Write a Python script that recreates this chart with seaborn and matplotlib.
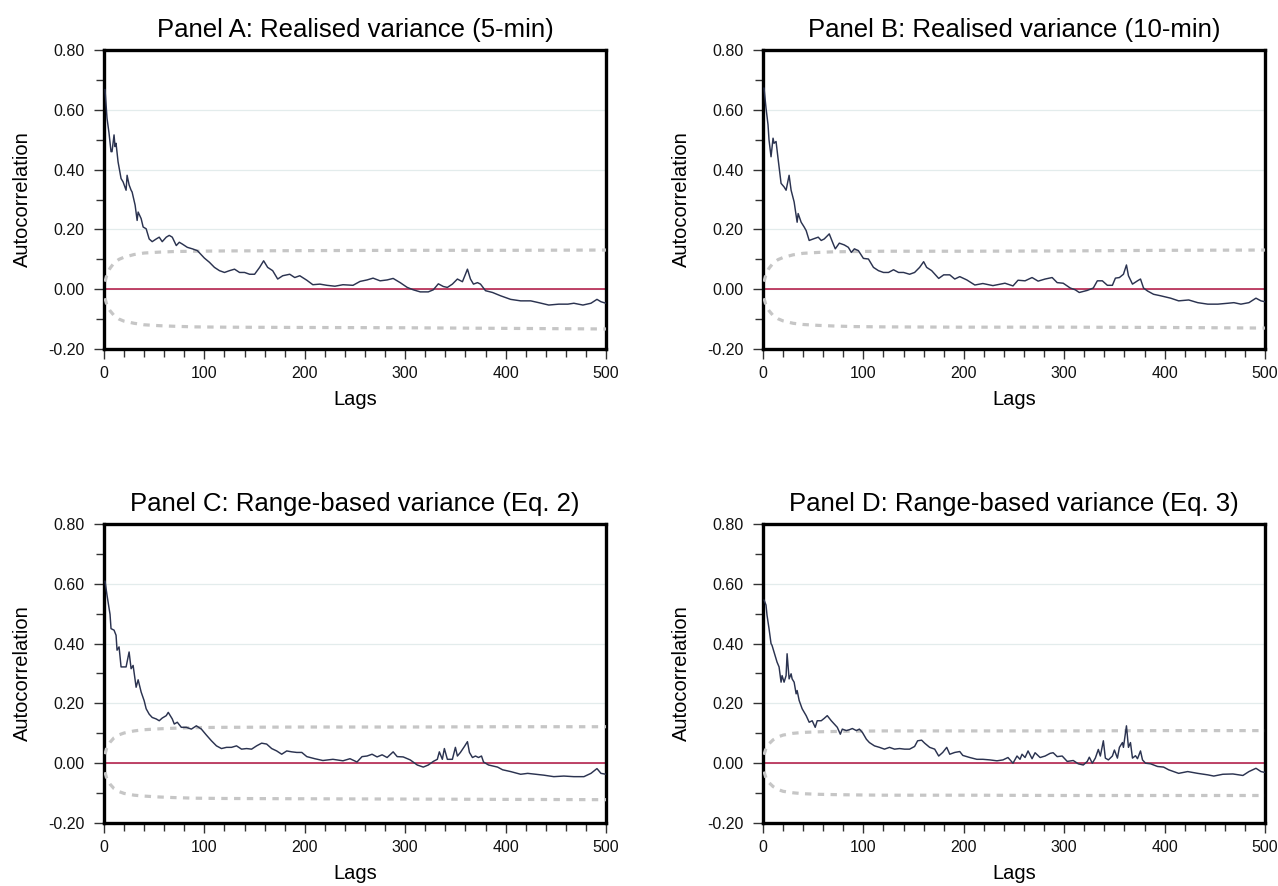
import matplotlib
matplotlib.use("Agg")
import matplotlib.pyplot as plt
from matplotlib.ticker import MultipleLocator, FormatStrFormatter
import pandas as pd
import seaborn as sns

# ---------------------------------------------------------------------------
# Sample autocorrelations (lag, value) for each variance measure
# ---------------------------------------------------------------------------
lags_a = [1, 3, 5, 7, 8, 10, 11, 12, 14, 17, 19, 22, 23, 25, 27, 28, 31, 33, 34, 37,
          39, 42, 45, 48, 52, 55, 58, 62, 65, 68, 72, 75, 78, 83, 88, 93, 100, 105, 110, 115,
          120, 125, 130, 135, 140, 145, 150, 155, 159, 163, 168, 173, 178, 185, 190, 195, 202, 208, 215, 222,
          230, 238, 248, 255, 262, 268, 275, 282, 288, 295, 302, 308, 315, 323, 328, 333, 338, 342, 347, 352,
          357, 360, 362, 365, 368, 372, 375, 380, 387, 395, 405, 415, 425, 433, 443, 453, 462, 468, 477, 485,
          491, 495, 500]
acf_a = [0.668, 0.572, 0.522, 0.460, 0.460, 0.516, 0.477, 0.488, 0.426, 0.370, 0.359, 0.331, 0.381, 0.349, 0.331, 0.325, 0.281, 0.230, 0.258, 0.236,
         0.208, 0.202, 0.168, 0.159, 0.168, 0.174, 0.159, 0.174, 0.180, 0.174, 0.146, 0.157, 0.151, 0.140, 0.135, 0.129, 0.104, 0.090, 0.073, 0.062,
         0.056, 0.062, 0.067, 0.056, 0.056, 0.050, 0.050, 0.073, 0.095, 0.073, 0.062, 0.034, 0.045, 0.050, 0.039, 0.045, 0.030, 0.015, 0.017, 0.013,
         0.010, 0.015, 0.013, 0.026, 0.031, 0.037, 0.028, 0.031, 0.036, 0.022, 0.006, -0.002, -0.009, -0.009, -0.002, 0.018, 0.009, 0.006, 0.017, 0.034,
         0.025, 0.050, 0.067, 0.034, 0.017, 0.022, 0.017, -0.005, -0.011, -0.022, -0.034, -0.039, -0.039, -0.045, -0.053, -0.050, -0.050, -0.047, -0.053, -0.047,
         -0.034, -0.042, -0.047]

lags_b = [1, 3, 5, 6, 8, 10, 11, 13, 15, 18, 21, 23, 26, 28, 31, 34, 35, 38, 41, 43,
          46, 50, 55, 58, 61, 66, 70, 72, 76, 81, 85, 88, 91, 95, 100, 105, 110, 115, 120, 125,
          130, 135, 140, 146, 151, 156, 160, 163, 168, 175, 180, 186, 191, 196, 203, 211, 219, 229, 241, 249,
          254, 261, 268, 274, 281, 288, 293, 299, 306, 311, 315, 323, 329, 333, 338, 343, 348, 351, 355, 359,
          362, 364, 368, 373, 376, 379, 383, 389, 396, 406, 414, 424, 433, 443, 453, 463, 469, 476, 484, 491,
          496, 500]
acf_b = [0.673, 0.606, 0.550, 0.499, 0.443, 0.505, 0.488, 0.494, 0.437, 0.354, 0.342, 0.331, 0.381, 0.331, 0.292, 0.224, 0.253, 0.224, 0.208, 0.196,
         0.163, 0.168, 0.174, 0.163, 0.168, 0.185, 0.151, 0.135, 0.154, 0.148, 0.140, 0.123, 0.135, 0.129, 0.103, 0.101, 0.073, 0.062, 0.056, 0.056,
         0.065, 0.056, 0.056, 0.050, 0.056, 0.073, 0.092, 0.073, 0.062, 0.036, 0.048, 0.048, 0.034, 0.042, 0.031, 0.014, 0.019, 0.012, 0.020, 0.011,
         0.030, 0.028, 0.039, 0.027, 0.034, 0.039, 0.022, 0.020, 0.004, -0.002, -0.011, -0.004, 0.004, 0.028, 0.028, 0.013, 0.013, 0.037, 0.039, 0.050,
         0.081, 0.045, 0.017, 0.028, 0.034, 0.004, -0.006, -0.017, -0.022, -0.030, -0.039, -0.036, -0.045, -0.050, -0.050, -0.047, -0.045, -0.050, -0.045, -0.030,
         -0.039, -0.042]

lags_c = [1, 3, 6, 7, 10, 12, 13, 15, 17, 20, 22, 25, 27, 29, 32, 34, 37, 40, 42, 45,
          48, 52, 55, 58, 62, 64, 68, 70, 73, 77, 82, 87, 92, 97, 102, 107, 112, 117, 122, 127,
          132, 137, 142, 147, 152, 157, 162, 167, 172, 177, 182, 187, 192, 197, 202, 210, 218, 228, 238, 245,
          252, 257, 262, 267, 272, 277, 282, 288, 292, 298, 305, 312, 318, 323, 328, 332, 334, 337, 339, 342,
          347, 350, 352, 355, 359, 362, 364, 367, 370, 373, 376, 378, 383, 392, 397, 405, 415, 422, 430, 438,
          448, 458, 468, 478, 485, 491, 495, 500]
acf_c = [0.609, 0.562, 0.498, 0.450, 0.445, 0.428, 0.378, 0.389, 0.322, 0.322, 0.322, 0.372, 0.316, 0.327, 0.254, 0.279, 0.238, 0.209, 0.182, 0.164,
         0.153, 0.148, 0.142, 0.151, 0.159, 0.170, 0.148, 0.131, 0.137, 0.120, 0.120, 0.114, 0.125, 0.114, 0.094, 0.075, 0.058, 0.049, 0.053, 0.053,
         0.058, 0.047, 0.049, 0.047, 0.058, 0.067, 0.064, 0.049, 0.041, 0.030, 0.041, 0.038, 0.036, 0.036, 0.022, 0.015, 0.009, 0.013, 0.008, 0.015,
         0.004, 0.022, 0.024, 0.030, 0.021, 0.028, 0.019, 0.038, 0.022, 0.021, 0.011, -0.006, -0.013, -0.006, 0.006, 0.013, 0.038, 0.013, 0.049, 0.013,
         0.013, 0.053, 0.024, 0.036, 0.056, 0.072, 0.036, 0.019, 0.024, 0.019, 0.024, 0.004, -0.006, -0.013, -0.022, -0.028, -0.037, -0.034, -0.037, -0.040,
         -0.045, -0.043, -0.045, -0.045, -0.034, -0.018, -0.034, -0.037]

lags_d = [1, 3, 4, 6, 8, 9, 11, 13, 14, 16, 18, 19, 21, 23, 24, 26, 28, 29, 31, 33,
          34, 36, 39, 43, 46, 49, 52, 54, 58, 61, 64, 68, 71, 74, 77, 79, 83, 86, 89, 93,
          96, 99, 103, 106, 111, 116, 121, 126, 131, 136, 141, 146, 151, 154, 158, 161, 166, 171, 175, 179,
          183, 186, 191, 196, 199, 206, 213, 219, 226, 233, 239, 244, 249, 253, 256, 258, 261, 264, 268, 271,
          276, 281, 286, 289, 293, 298, 303, 309, 314, 319, 323, 325, 328, 331, 334, 336, 339, 341, 344, 348,
          350, 353, 355, 358, 359, 362, 364, 366, 368, 371, 373, 376, 378, 381, 386, 393, 399, 404, 414, 423,
          433, 443, 449, 458, 468, 478, 484, 491, 496, 500]
acf_d = [0.546, 0.529, 0.495, 0.450, 0.400, 0.394, 0.372, 0.349, 0.338, 0.322, 0.271, 0.293, 0.271, 0.293, 0.366, 0.282, 0.299, 0.282, 0.271, 0.232,
         0.243, 0.210, 0.182, 0.159, 0.137, 0.142, 0.120, 0.142, 0.142, 0.150, 0.159, 0.142, 0.131, 0.120, 0.097, 0.114, 0.109, 0.112, 0.116, 0.109,
         0.114, 0.103, 0.080, 0.069, 0.058, 0.053, 0.047, 0.053, 0.047, 0.049, 0.047, 0.047, 0.056, 0.075, 0.077, 0.067, 0.053, 0.047, 0.024, 0.036,
         0.053, 0.030, 0.036, 0.039, 0.026, 0.019, 0.013, 0.013, 0.011, 0.008, 0.011, 0.019, 0.000, 0.024, 0.013, 0.030, 0.019, 0.041, 0.015, 0.035,
         0.019, 0.024, 0.033, 0.035, 0.022, 0.024, 0.006, 0.009, -0.002, -0.006, 0.006, 0.020, 0.000, 0.017, 0.046, 0.024, 0.075, 0.017, 0.011, 0.024,
         0.044, 0.017, 0.053, 0.069, 0.053, 0.125, 0.053, 0.069, 0.017, 0.025, 0.015, 0.041, 0.011, 0.000, -0.002, -0.011, -0.013, -0.022, -0.034, -0.028,
         -0.034, -0.039, -0.043, -0.037, -0.036, -0.041, -0.028, -0.017, -0.028, -0.031]

# Confidence bands (upper / lower) at selected lags
band_lags = [1, 3, 6, 10, 15, 20, 30, 40, 55, 70, 90, 120, 200, 300, 400, 500]
band_hi_a = [0.025, 0.050, 0.070, 0.088, 0.100, 0.107, 0.116, 0.121, 0.124, 0.126, 0.127, 0.128, 0.129, 0.130, 0.130, 0.131]
band_lo_a = [-0.030, -0.055, -0.072, -0.088, -0.100, -0.107, -0.114, -0.119, -0.122, -0.124, -0.126, -0.127, -0.128, -0.129, -0.131, -0.133]
band_hi_b = [0.025, 0.050, 0.070, 0.087, 0.099, 0.106, 0.115, 0.120, 0.123, 0.125, 0.126, 0.127, 0.127, 0.128, 0.130, 0.131]
band_lo_b = [-0.030, -0.055, -0.072, -0.088, -0.099, -0.106, -0.114, -0.118, -0.121, -0.123, -0.125, -0.126, -0.127, -0.127, -0.128, -0.130]
band_hi_c = [0.030, 0.055, 0.070, 0.085, 0.095, 0.101, 0.108, 0.112, 0.115, 0.117, 0.119, 0.120, 0.121, 0.121, 0.122, 0.122]
band_lo_c = [-0.030, -0.055, -0.070, -0.085, -0.095, -0.101, -0.107, -0.110, -0.113, -0.115, -0.117, -0.118, -0.119, -0.120, -0.121, -0.122]
band_hi_d = [0.028, 0.050, 0.065, 0.078, 0.088, 0.094, 0.100, 0.103, 0.105, 0.106, 0.107, 0.108, 0.108, 0.108, 0.109, 0.109]
band_lo_d = [-0.028, -0.050, -0.065, -0.078, -0.088, -0.094, -0.099, -0.102, -0.104, -0.105, -0.106, -0.107, -0.107, -0.108, -0.108, -0.108]

titles = [
    "Panel A: Realised variance (5-min)",
    "Panel B: Realised variance (10-min)",
    "Panel C: Range-based variance (Eq. 2)",
    "Panel D: Range-based variance (Eq. 3)",
]

panels = [
    (lags_a, acf_a, band_hi_a, band_lo_a),
    (lags_b, acf_b, band_hi_b, band_lo_b),
    (lags_c, acf_c, band_hi_c, band_lo_c),
    (lags_d, acf_d, band_hi_d, band_lo_d),
]

# ---------------------------------------------------------------------------
# Style
# ---------------------------------------------------------------------------
sns.set_theme(style="white")
plt.rcParams["font.family"] = ["Liberation Sans", "DejaVu Sans"]

LINE_COLOR = "#2b3350"
BAND_COLOR = "#c6c6c6"
ZERO_COLOR = "#b0123f"
GRID_COLOR = "#e3ecec"

fig = plt.figure(figsize=(12.78, 8.86), dpi=100)

W, H = 1278, 886
ax_w, ax_h = 502, 299
origins = [(104, 50), (763, 50), (104, 524), (763, 524)]  # (left, top) in pixels

for (left, top), title, (lags, acf, bhi, blo) in zip(origins, titles, panels):
    ax = fig.add_axes([left / W, 1 - (top + ax_h) / H, ax_w / W, ax_h / H])

    ax.yaxis.grid(True, which="major", color=GRID_COLOR, linewidth=0.9)
    ax.xaxis.grid(False)
    ax.set_axisbelow(True)

    ax.axhline(0.0, color=ZERO_COLOR, linewidth=1.1, zorder=2)

    band_df = pd.DataFrame({"lag": band_lags, "hi": bhi, "lo": blo})
    for col in ("hi", "lo"):
        sns.lineplot(data=band_df, x="lag", y=col, ax=ax, color=BAND_COLOR,
                     linewidth=2.3, linestyle=(0, (2, 2)), estimator=None, zorder=3)

    acf_df = pd.DataFrame({"lag": lags, "acf": acf})
    sns.lineplot(data=acf_df, x="lag", y="acf", ax=ax, color=LINE_COLOR,
                 linewidth=1.05, estimator=None, zorder=4)

    ax.set_xlim(0, 500)
    ax.set_ylim(-0.2, 0.8)
    ax.xaxis.set_major_locator(MultipleLocator(100))
    ax.xaxis.set_minor_locator(MultipleLocator(20))
    ax.yaxis.set_major_locator(MultipleLocator(0.2))
    ax.yaxis.set_minor_locator(MultipleLocator(0.1))
    ax.yaxis.set_major_formatter(FormatStrFormatter("%.2f"))

    ax.tick_params(which="both", direction="out", bottom=True, left=True,
                   top=False, right=False, color="#333333", width=1.0,
                   labelsize=11.5, labelcolor="#111111")
    ax.tick_params(which="major", length=7)
    ax.tick_params(which="minor", length=6)
    ax.tick_params(axis="y", which="major", pad=7)
    ax.tick_params(axis="x", which="major", pad=5)

    for spine in ax.spines.values():
        spine.set_visible(True)
        spine.set_color("black")
        spine.set_linewidth(2.4)

    ax.set_xlabel("Lags", fontsize=14.5, labelpad=7, color="black")
    ax.set_ylabel("Autocorrelation", fontsize=14.5, labelpad=12, color="black")
    ax.set_title(title, fontsize=18.5, pad=9, color="black")

fig.savefig("out.png", dpi=100, facecolor="white")
